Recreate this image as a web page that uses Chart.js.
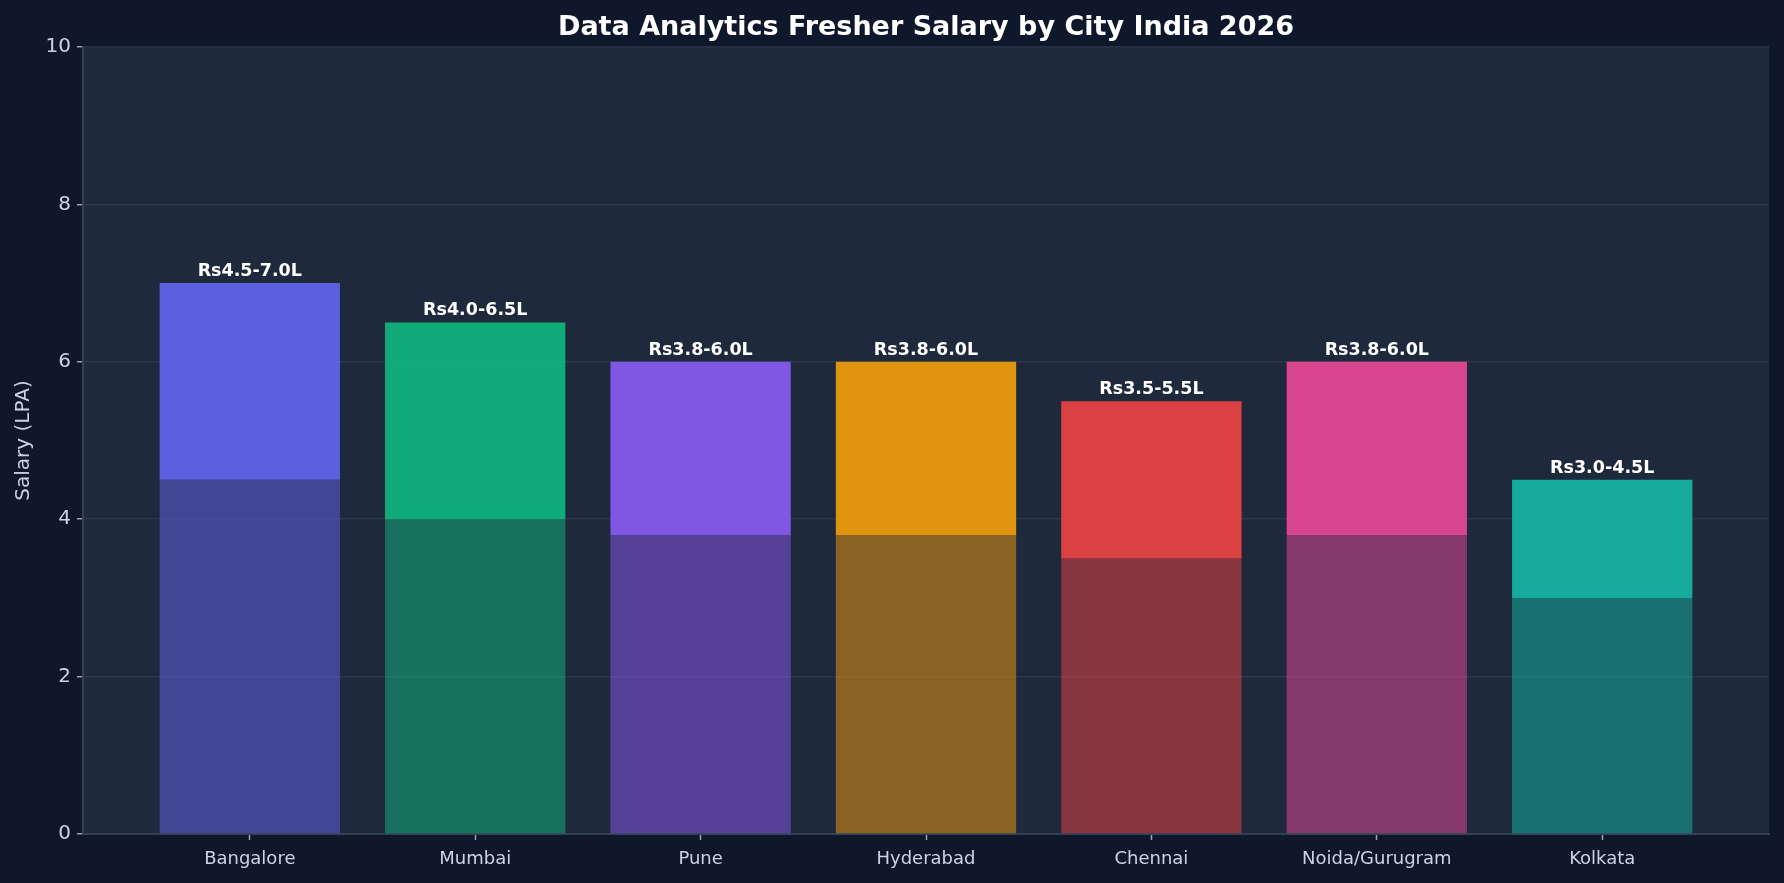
<!DOCTYPE html>
<html>
<head>
<meta charset="utf-8">
<script src="https://cdn.jsdelivr.net/npm/chart.js@4.4.1/dist/chart.umd.min.js"></script>
<style>
  html, body { margin: 0; padding: 0; background: #0f172a; }
  #wrap { width: 1784px; height: 883px; position: relative; }
</style>
</head>
<body>
<div id="wrap"><canvas id="c" width="1784" height="883"></canvas></div>
<script>
const cities = ["Bangalore", "Mumbai", "Pune", "Hyderabad", "Chennai", "Noida/Gurugram", "Kolkata"];
const minSalary = [4.5, 4.0, 3.8, 3.8, 3.5, 3.8, 3.0];
const maxSalary = [7.0, 6.5, 6.0, 6.0, 5.5, 6.0, 4.5];
const barColors = ["#6366f1", "#10b981", "#8b5cf6", "#f59e0b", "#ef4444", "#ec4899", "#14b8a6"];
const yTicks = [0, 2, 4, 6, 8, 10];
const chartTitle = "Data Analytics Fresher Salary by City India 2026";
const yTitle = "Salary (LPA)";

function hexA(hex, a) {
  const r = parseInt(hex.slice(1,3),16), g = parseInt(hex.slice(3,5),16), b = parseInt(hex.slice(5,7),16);
  return `rgba(${r},${g},${b},${a})`;
}
const labelsText = cities.map((c,i) => `Rs${minSalary[i].toFixed(1)}-${maxSalary[i].toFixed(1)}L`);

const bgPlugin = {
  id: 'bg',
  beforeDraw(chart) {
    const ctx = chart.ctx, a = chart.chartArea;
    ctx.save();
    ctx.fillStyle = '#0f172a';
    ctx.fillRect(0, 0, chart.width, chart.height);
    ctx.fillStyle = '#1e293b';
    ctx.fillRect(a.left, a.top, a.right - a.left, a.bottom - a.top);
    ctx.restore();
  },
  afterDraw(chart) {
    const ctx = chart.ctx, a = chart.chartArea;
    const y = chart.scales.y, x = chart.scales.x;
    ctx.save();
    ctx.fillStyle = '#ffffff';
    ctx.font = 'bold 27px "DejaVu Sans"';
    ctx.textAlign = 'center';
    ctx.textBaseline = 'middle';
    ctx.fillText(chartTitle, (a.left + a.right) / 2, 28);
    ctx.save();
    ctx.translate(24, (a.top + a.bottom) / 2);
    ctx.rotate(-Math.PI / 2);
    ctx.fillStyle = '#cbd5e1';
    ctx.font = '20px "DejaVu Sans"';
    ctx.fillText(yTitle, 0, 0);
    ctx.restore();
    ctx.fillStyle = '#ffffff';
    ctx.font = 'bold 17.5px "DejaVu Sans"';
    ctx.textBaseline = 'alphabetic';
    cities.forEach((c, i) => {
      const px = x.getPixelForValue(i);
      const py = y.getPixelForValue(maxSalary[i]);
      ctx.fillText(labelsText[i], px, py - 7);
    });
    ctx.restore();
  }
};

new Chart(document.getElementById('c'), {
  type: 'bar',
  data: {
    datasets: [
      {
        label: 'Min',
        data: minSalary.map((m, i) => ({ x: i, y: m })),
        backgroundColor: barColors.map(c => hexA(c, 0.5)),
        borderWidth: 0,
        barPercentage: 0.8,
        categoryPercentage: 1.0,
        order: 1
      },
      {
        label: 'Range',
        data: minSalary.map((m, i) => ({ x: i, y: [m, maxSalary[i]] })),
        backgroundColor: barColors.map(c => hexA(c, 0.9)),
        borderWidth: 0,
        barPercentage: 0.8,
        categoryPercentage: 1.0,
        order: 0
      }
    ]
  },
  options: {
    responsive: false,
    animation: false,
    devicePixelRatio: 1,
    layout: { padding: { top: 47, right: 15, bottom: 0, left: 0 } },
    plugins: {
      legend: { display: false },
      title: { display: false },
      tooltip: { enabled: false }
    },
    scales: {
      x: {
        type: 'linear',
        stacked: true,
        offset: false,
        min: -0.74,
        max: 6.74,
        afterBuildTicks(scale) { scale.ticks = cities.map((c, i) => ({ value: i })); },
        grid: {
          display: true,
          offset: false,
          drawOnChartArea: false,
          tickColor: '#94a3b8',
          tickLength: 6,
          tickWidth: 1.5
        },
        border: { color: '#334155', width: 2 },
        ticks: {
          color: '#cbd5e1',
          font: { family: 'DejaVu Sans', size: 18 },
          padding: 9,
          maxRotation: 0,
          autoSkip: false,
          callback: (v) => cities[v]
        },
        afterFit(scale) { scale.height = 883 - 834; }
      },
      y: {
        min: 0,
        max: 10,
        afterBuildTicks(scale) { scale.ticks = yTicks.map(v => ({ value: v })); },
        grid: {
          color: 'rgba(51,65,85,0.6)',
          lineWidth: 1.5,
          tickColor: '#94a3b8',
          tickLength: 6,
          tickWidth: 1.5
        },
        border: { color: '#334155', width: 2 },
        ticks: {
          color: '#cbd5e1',
          font: { family: 'DejaVu Sans', size: 20 },
          padding: 6
        },
        afterFit(scale) { scale.width = 83; }
      }
    }
  },
  plugins: [bgPlugin]
});
</script>
</body>
</html>
